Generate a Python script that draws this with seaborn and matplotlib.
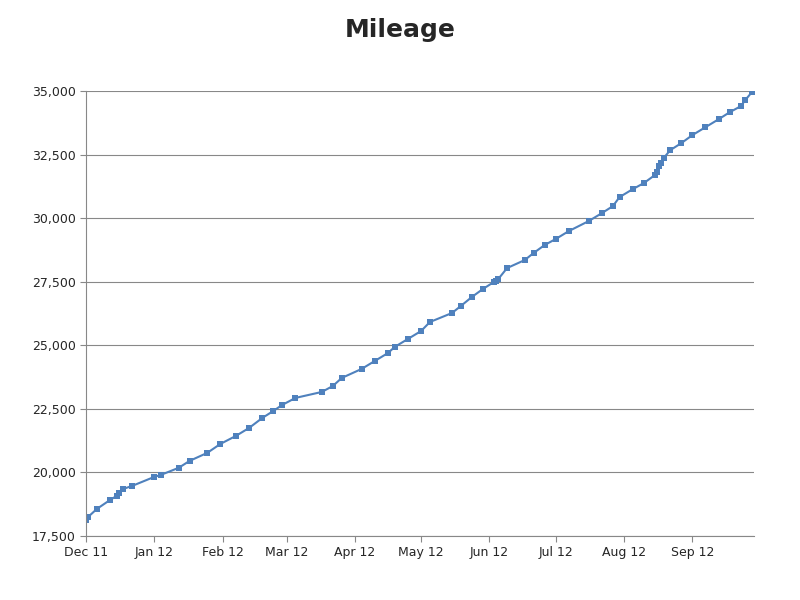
import matplotlib
matplotlib.use("Agg")
import matplotlib.pyplot as plt
import matplotlib.dates as mdates
import matplotlib.ticker as mticker
import seaborn as sns
import pandas as pd

dates = ["2011-12-01","2011-12-02","2011-12-06","2011-12-12","2011-12-15","2011-12-16","2011-12-18","2011-12-22",
 "2012-01-01","2012-01-04","2012-01-12","2012-01-17","2012-01-25","2012-01-31",
 "2012-02-07","2012-02-13","2012-02-19","2012-02-24","2012-02-28",
 "2012-03-05","2012-03-17","2012-03-22","2012-03-26",
 "2012-04-04","2012-04-10","2012-04-16","2012-04-19","2012-04-25",
 "2012-05-01","2012-05-05","2012-05-15","2012-05-19","2012-05-24","2012-05-29",
 "2012-06-03","2012-06-04","2012-06-05","2012-06-09","2012-06-17","2012-06-21","2012-06-26",
 "2012-07-01","2012-07-07","2012-07-16","2012-07-22","2012-07-27","2012-07-30",
 "2012-08-05","2012-08-10","2012-08-15","2012-08-16","2012-08-17","2012-08-18","2012-08-19","2012-08-22","2012-08-27",
 "2012-09-01","2012-09-07","2012-09-13","2012-09-18","2012-09-23","2012-09-25","2012-09-28"]
mileage = [18129,18247,18562,18916,19073,19191,19348,19466,
 19820,19899,20174,20449,20764,21118,
 21432,21747,22140,22415,22651,
 22927,23163,23399,23713,
 24067,24382,24696,24932,25247,
 25561,25915,26269,26544,26898,27213,
 27488,27527,27606,28039,28353,28629,28943,
 29179,29494,29887,30201,30477,30831,
 31145,31381,31696,31814,32050,32168,32365,32679,32954,
 33269,33584,33898,34174,34410,34646,34960]

df = pd.DataFrame({"date": pd.to_datetime(dates), "mileage": mileage})

sns.set_style("white")
fig = plt.figure(figsize=(8, 6), dpi=100)
ax = fig.add_axes([0.1075, 0.107, 0.835, 0.741])
sns.lineplot(data=df, x="date", y="mileage", ax=ax, color="#4F81BD", marker="s",
             markersize=4, markeredgewidth=0, linewidth=1.5)
ax.set_xlim(pd.Timestamp("2011-12-01"), pd.Timestamp("2012-09-29"))
ax.set_ylim(17500, 35000)
ax.yaxis.set_major_locator(mticker.MultipleLocator(2500))
ax.yaxis.set_major_formatter(mticker.FuncFormatter(lambda v, p: f"{int(v):,}"))
ax.xaxis.set_major_locator(mdates.MonthLocator())
ax.xaxis.set_major_formatter(mdates.DateFormatter("%b %y"))
ax.grid(axis="y", color="#888888", linewidth=0.8)
ax.grid(axis="x", visible=False)
for s in ["top", "right"]:
    ax.spines[s].set_visible(False)
ax.spines["left"].set_color("#888888")
ax.spines["bottom"].set_color("#888888")
ax.tick_params(axis="both", labelsize=9, length=4, color="#888888", direction="out", left=True, bottom=True)
ax.set_xlabel("")
ax.set_ylabel("")
fig.suptitle("Mileage", fontsize=18, fontweight="bold", y=0.97)
fig.savefig("out.png", dpi=100, facecolor="white")
